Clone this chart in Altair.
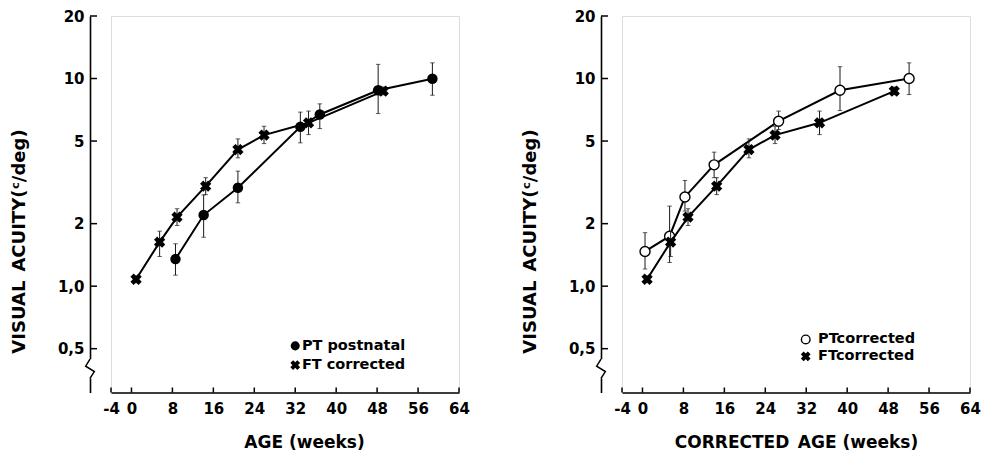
import altair as alt
import pandas as pd

# ---- visual acuity (c/deg) against age in weeks ----
# full-term infants, corrected age (shared by both panels)
ft_week = [0.9, 5.5, 8.9, 14.5, 20.8, 25.9, 34.6, 49.2]
ft_va = [1.08, 1.63, 2.15, 3.03, 4.55, 5.34, 6.12, 8.70]
ft_lo = [1.04, 1.39, 1.96, 2.76, 4.15, 4.86, 5.37, 8.35]
ft_hi = [1.12, 1.84, 2.36, 3.33, 5.12, 5.89, 6.97, 9.10]

# pre-term infants, postnatal age
pt_post_week = [8.6, 14.1, 20.8, 33.0, 36.8, 48.2, 58.8]
pt_post_va = [1.35, 2.20, 2.98, 5.85, 6.71, 8.78, 9.97]
pt_post_lo = [1.13, 1.72, 2.52, 4.90, 5.74, 6.78, 8.31]
pt_post_hi = [1.60, 2.75, 3.58, 6.89, 7.55, 11.7, 11.9]

# pre-term infants, corrected age
pt_corr_week = [0.5, 5.3, 8.3, 14.0, 26.6, 38.6, 52.1]
pt_corr_va = [1.47, 1.74, 2.69, 3.84, 6.23, 8.78, 10.0]
pt_corr_lo = [1.21, 1.30, 2.30, 3.33, 5.68, 7.01, 8.37]
pt_corr_hi = [1.81, 2.43, 3.23, 4.42, 6.97, 11.4, 11.9]

x_ticks = [-4, 0, 8, 16, 24, 32, 40, 48, 56, 64]
y_ticks = [0.5, 1, 2, 5, 10, 20]
y_tick_labels = ["0,5", "1,0", "2", "5", "10", "20"]

W, H = 348, 376.5
AXIS_OFFSET = 21
FONT = "DejaVu Sans"

label_expr = " : ".join(
    f"datum.value == {v} ? '{t}'" for v, t in zip(y_ticks, y_tick_labels)
) + " : ''"


def series_df(week, va, lo, hi):
    return pd.DataFrame({"week": week, "va": va, "lo": lo, "hi": hi})


def make_panel(series, legend_rows, x_title, x_title_x):
    xs = alt.Scale(domain=[-4, 64], nice=False, zero=False)
    ys = alt.Scale(type="log", domain=[0.3076, 20], nice=False)
    x_axis = alt.Axis(
        values=x_ticks, labelExpr="'' + datum.value", ticks=False, grid=False,
        domainColor="black", domainWidth=1.6, labelFont=FONT,
        labelFontWeight="bold", labelFontSize=15, labelColor="black",
        labelPadding=9, labelFlush=False, title=x_title, titleFont=FONT,
        titleFontWeight="bold", titleFontSize=17, titleColor="black",
        titlePadding=18, titleX=x_title_x,
    )
    y_axis = alt.Axis(
        values=y_ticks, labelExpr=label_expr, ticks=False, grid=False,
        offset=AXIS_OFFSET, domainColor="black", domainWidth=1.6,
        labelFont=FONT, labelFontWeight="bold", labelFontSize=15,
        labelColor="black", labelPadding=6, labelFlush=False,
        title="VISUAL\u2002ACUITY(\u1d9c/deg)", titleFont=FONT,
        titleFontWeight="bold", titleFontSize=18, titleColor="black",
        titlePadding=29, titleY=225,
    )

    def X(field):
        return alt.X(field, type="quantitative", scale=xs, axis=x_axis)

    def Y(field):
        return alt.Y(field, type="quantitative", scale=ys, axis=y_axis)

    layers = []

    # inward tick marks on both axes
    xt = pd.DataFrame({"t": x_ticks})
    layers.append(
        alt.Chart(xt).mark_rule(color="black", strokeWidth=1.5).encode(
            x=X("t"), y=alt.value(H), y2=alt.value(H - 5)
        )
    )
    yt = pd.DataFrame({"t": y_ticks})
    layers.append(
        alt.Chart(yt).mark_rule(color="black", strokeWidth=1.5, clip=False).encode(
            y=Y("t"), x=alt.value(-AXIS_OFFSET), x2=alt.value(-AXIS_OFFSET + 7)
        )
    )

    # axis break on the y axis
    axis_week = -4 - AXIS_OFFSET * 68 / W
    brk = pd.DataFrame({"w": [axis_week], "a": [0.445], "b": [0.36]})
    layers.append(
        alt.Chart(brk).mark_rule(color="white", strokeWidth=4, clip=False).encode(
            x=X("w"), y=Y("a"), y2=alt.Y2("b")
        )
    )
    zz = pd.DataFrame({
        "i": [0, 1, 2, 3],
        "w": [axis_week, axis_week - 0.85, axis_week + 0.85, axis_week],
        "v": [0.445, 0.412, 0.388, 0.36],
    })
    layers.append(
        alt.Chart(zz).mark_line(color="black", strokeWidth=1.5, clip=False).encode(
            x=X("w"), y=Y("v"), order=alt.Order("i:Q")
        )
    )

    # data series: error bars, connecting line, symbols
    for df, style in series:
        base = alt.Chart(df)
        layers.append(
            base.mark_rule(color="#1a1a1a", strokeWidth=1).encode(
                x=X("week"), y=Y("lo"), y2=alt.Y2("hi")
            )
        )
        for end in ("lo", "hi"):
            layers.append(
                base.mark_tick(color="#1a1a1a", orient="horizontal",
                               size=4.5, thickness=1).encode(x=X("week"), y=Y(end))
            )
        layers.append(
            base.mark_line(color="black", strokeWidth=2).encode(
                x=X("week"), y=Y("va"), order=alt.Order("week:Q")
            )
        )
        layers.append(base.mark_point(**style).encode(x=X("week"), y=Y("va")))

    # legend rows
    for sym_w, txt_w, va, label, style in legend_rows:
        row = pd.DataFrame({"sw": [sym_w], "tw": [txt_w], "va": [va], "label": [label]})
        c = alt.Chart(row)
        leg_style = dict(style)
        leg_style["size"] = style["size"] * 0.75
        layers.append(c.mark_point(**leg_style).encode(x=X("sw"), y=Y("va")))
        layers.append(
            c.mark_text(font=FONT, fontWeight="bold", fontSize=14.5, align="left",
                        baseline="middle", color="black").encode(
                x=X("tw"), y=Y("va"), text="label:N"
            )
        )

    return alt.layer(*layers).properties(width=W, height=H)


filled_circle = dict(shape="circle", filled=True, color="black", size=110, opacity=1)
open_circle = dict(shape="circle", filled=True, fill="white", stroke="black",
                   strokeWidth=1.4, size=100, opacity=1)
cross = dict(shape="cross", angle=45, filled=True, color="black", size=130, opacity=1)

left = make_panel(
    [(series_df(pt_post_week, pt_post_va, pt_post_lo, pt_post_hi), filled_circle),
     (series_df(ft_week, ft_va, ft_lo, ft_hi), cross)],
    [(32.0, 33.3, 0.516, "PT postnatal", filled_circle),
     (32.0, 33.3, 0.417, "FT corrected", cross)],
    "AGE (weeks)", 193,
)

right = make_panel(
    [(series_df(pt_corr_week, pt_corr_va, pt_corr_lo, pt_corr_hi), open_circle),
     (series_df(ft_week, ft_va, ft_lo, ft_hi), cross)],
    [(31.9, 34.3, 0.554, "PTcorrected", open_circle),
     (31.9, 34.3, 0.459, "FTcorrected", cross)],
    "CORRECTED\u2002AGE (weeks)", 174,
)

chart = (
    alt.hconcat(left, right, spacing=163, bounds="flush")
    .properties(padding={"left": 9, "top": 8, "right": 5, "bottom": 5})
    .configure_view(stroke=None)
    .configure(background="white")
)

chart.save("out.html", embed_options={"renderer": "svg", "actions": False})
